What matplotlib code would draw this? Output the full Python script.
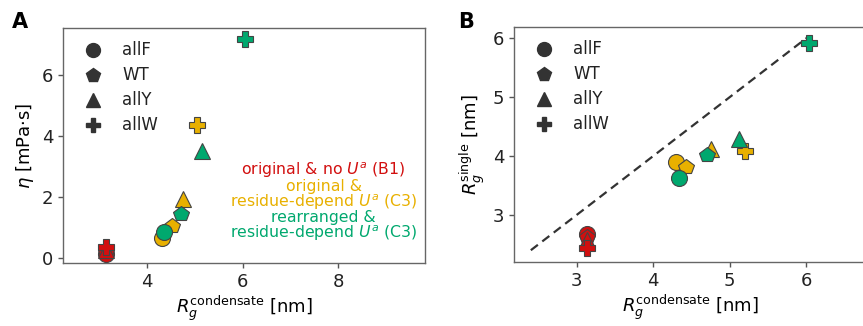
import matplotlib
matplotlib.use("Agg")
import matplotlib.pyplot as plt
from matplotlib.lines import Line2D

plt.rcParams['font.family'] = ['DejaVu Sans']
plt.rcParams['mathtext.fontset'] = 'dejavusans'

# ---- data ----
variants = ["allF", "WT", "allY", "allW"]
markers = ["o", "p", "^", "P"]
series_names = ["original & no $U^a$ (B1)",
                "original &\nresidue-depend $U^a$ (C3)",
                "rearranged &\nresidue-depend $U^a$ (C3)"]
series_colors = ["#d20f0f", "#e8b000", "#00a86e"]

# panel A: Rg condensate vs viscosity
rg_cond_A = [
    [3.15, 3.15, 3.15, 3.15],
    [4.31, 4.52, 4.75, 5.05],
    [4.36, 4.71, 5.15, 6.05],
]
eta = [
    [0.15, 0.20, 0.25, 0.35],
    [0.65, 1.05, 1.95, 4.35],
    [0.85, 1.45, 3.50, 7.18],
]

# panel B: Rg condensate vs Rg single
rg_cond_B = [
    [3.14, 3.14, 3.14, 3.14],
    [4.30, 4.43, 4.75, 5.20],
    [4.34, 4.70, 5.12, 6.04],
]
rg_single = [
    [2.67, 2.63, 2.58, 2.44],
    [3.89, 3.82, 4.12, 4.08],
    [3.63, 4.02, 4.28, 5.92],
]
diag = [2.4, 6.0]

fig = plt.figure(figsize=(8.63, 3.26), dpi=100)
axA = fig.add_axes([63/863, 63/326, 362/863, 235/326])
axB = fig.add_axes([514/863, 64/326, 352/863, 235/326])

ms = 11.5
edge = "#444444"

def style(ax):
    for s in ax.spines.values():
        s.set_color("#666666")
        s.set_linewidth(1.0)
    ax.tick_params(labelsize=13, length=3.5, width=1, color="#555555", labelcolor="#222222")

for si in range(3):
    for vi in range(4):
        axA.plot(rg_cond_A[si][vi], eta[si][vi], marker=markers[vi], ls="none",
                 ms=ms, mfc=series_colors[si], mec=edge, mew=0.8, zorder=3 + si)
        axB.plot(rg_cond_B[si][vi], rg_single[si][vi], marker=markers[vi], ls="none",
                 ms=ms, mfc=series_colors[si], mec=edge, mew=0.8, zorder=3 + si)

axB.plot(diag, diag, ls=(0, (4, 2.5)), color="#333333", lw=1.6, zorder=2)

handles = [Line2D([], [], marker=m, ls="none", color="#333333", ms=10) for m in markers]
for ax in (axA, axB):
    ax.legend(handles, variants, loc="upper left", frameon=False, fontsize=12,
              handletextpad=0.75, labelspacing=0.42, borderaxespad=0.4,
              labelcolor="#222222")
    style(ax)

axA.set_xlim(2.24, 9.82)
axA.set_ylim(-0.16, 7.54)
axA.set_xticks([4, 6, 8])
axA.set_yticks([0, 2, 4, 6])
axA.set_xlabel(r"$R_g^{\mathrm{condensate}}$ [nm]", fontsize=13, labelpad=2)
axA.set_ylabel(r"$\eta$ [mPa$\cdot$s]", fontsize=13, labelpad=4)

axB.set_xlim(2.18, 6.78)
axB.set_ylim(2.2, 6.19)
axB.set_xticks([3, 4, 5, 6])
axB.set_yticks([3, 4, 5, 6])
axB.set_xlabel(r"$R_g^{\mathrm{condensate}}$ [nm]", fontsize=13, labelpad=2)
axB.set_ylabel(r"$R_g^{\mathrm{single}}$ [nm]", fontsize=13, labelpad=4)

ypos = [0.393, 0.289, 0.155]
for si in range(3):
    axA.text(0.72, ypos[si], series_names[si], transform=axA.transAxes,
             ha="center", va="center", multialignment="center",
             color=series_colors[si], fontsize=11.3, linespacing=0.9)

fig.text(12/863, 1 - 22/326, "A", fontsize=15, fontweight="bold", va="center")
fig.text(458/863, 1 - 22/326, "B", fontsize=15, fontweight="bold", va="center")

fig.savefig("out.png", dpi=100)
